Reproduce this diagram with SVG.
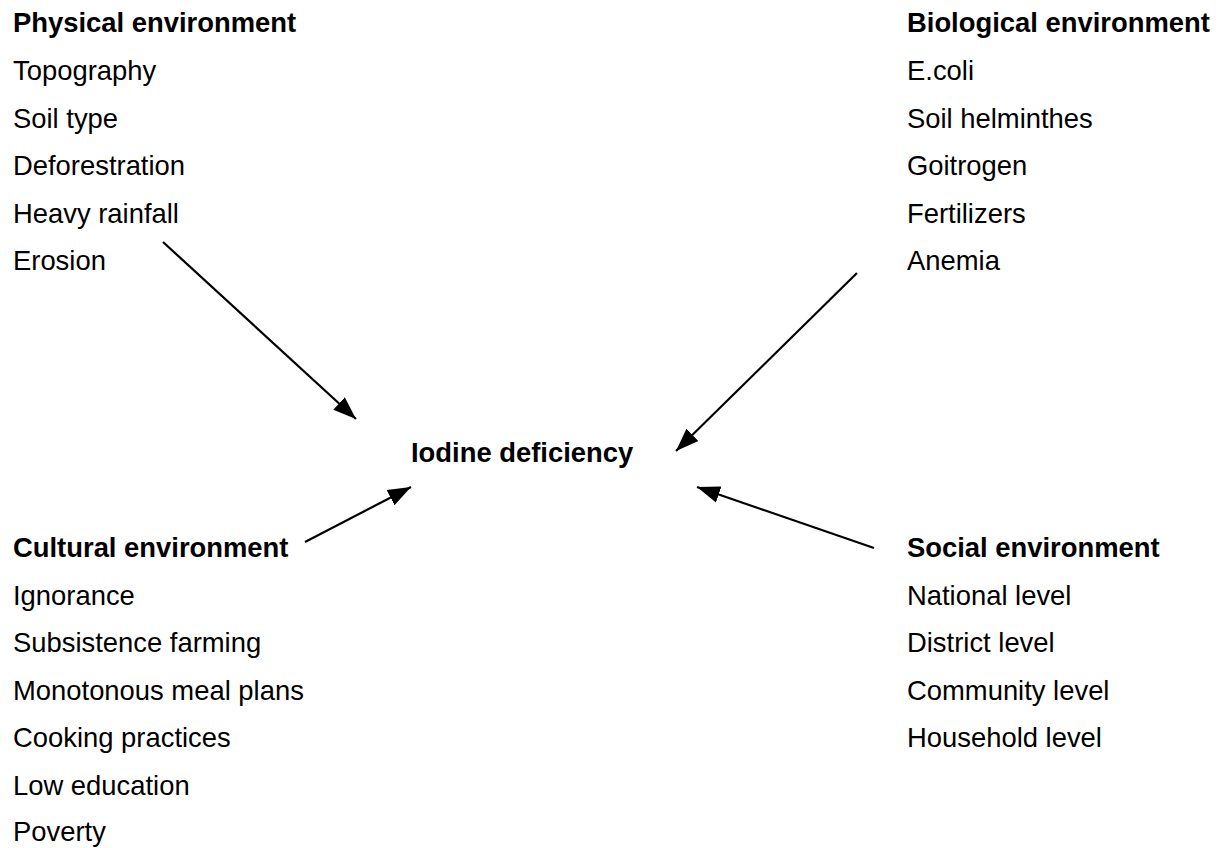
<svg xmlns="http://www.w3.org/2000/svg" width="1218" height="848" viewBox="0 0 1218 848">
<style>
text{font-family:"Liberation Sans",Arial,sans-serif;font-size:27.4px;fill:#000}
.h{font-weight:bold}
.c{stroke:#000;stroke-width:2.2;fill:none;marker-end:url(#ah)}
</style>
<defs>
<marker id="ah" markerUnits="userSpaceOnUse" markerWidth="26" markerHeight="20" viewBox="0 0 26 20" refX="23" refY="10" orient="auto">
<path d="M0,1.5 L23,10 L0,18.5 Z" fill="#000"/>
</marker>
</defs>
<rect width="1218" height="848" fill="#fff"/>
<g id="physical">
<text class="h" x="13" y="32">Physical environment</text>
<text x="13" y="80">Topography</text>
<text x="13" y="127.5">Soil type</text>
<text x="13" y="175">Deforestration</text>
<text x="13" y="222.5">Heavy rainfall</text>
<text x="13" y="270">Erosion</text>
</g>
<g id="biological">
<text class="h" x="907" y="32">Biological environment</text>
<text x="907" y="80">E.coli</text>
<text x="907" y="127.5">Soil helminthes</text>
<text x="907" y="175">Goitrogen</text>
<text x="907" y="222.5">Fertilizers</text>
<text x="907" y="270">Anemia</text>
</g>
<g id="iodine">
<text class="h" x="411" y="462">Iodine deficiency</text>
</g>
<g id="cultural">
<text class="h" x="13" y="557">Cultural environment</text>
<text x="13" y="604.5">Ignorance</text>
<text x="13" y="652">Subsistence farming</text>
<text x="13" y="699.5">Monotonous meal plans</text>
<text x="13" y="747">Cooking practices</text>
<text x="13" y="794.5">Low education</text>
<text x="13" y="841">Poverty</text>
</g>
<g id="social">
<text class="h" x="907" y="557">Social environment</text>
<text x="907" y="604.5">National level</text>
<text x="907" y="652">District level</text>
<text x="907" y="699.5">Community level</text>
<text x="907" y="747">Household level</text>
</g>
<g id="connectors">
<line class="c" x1="163" y1="242" x2="356" y2="419"/>
<line class="c" x1="857" y1="273" x2="676" y2="451"/>
<line class="c" x1="305" y1="542" x2="411" y2="487"/>
<line class="c" x1="874" y1="548" x2="697" y2="487"/>
</g>
</svg>
